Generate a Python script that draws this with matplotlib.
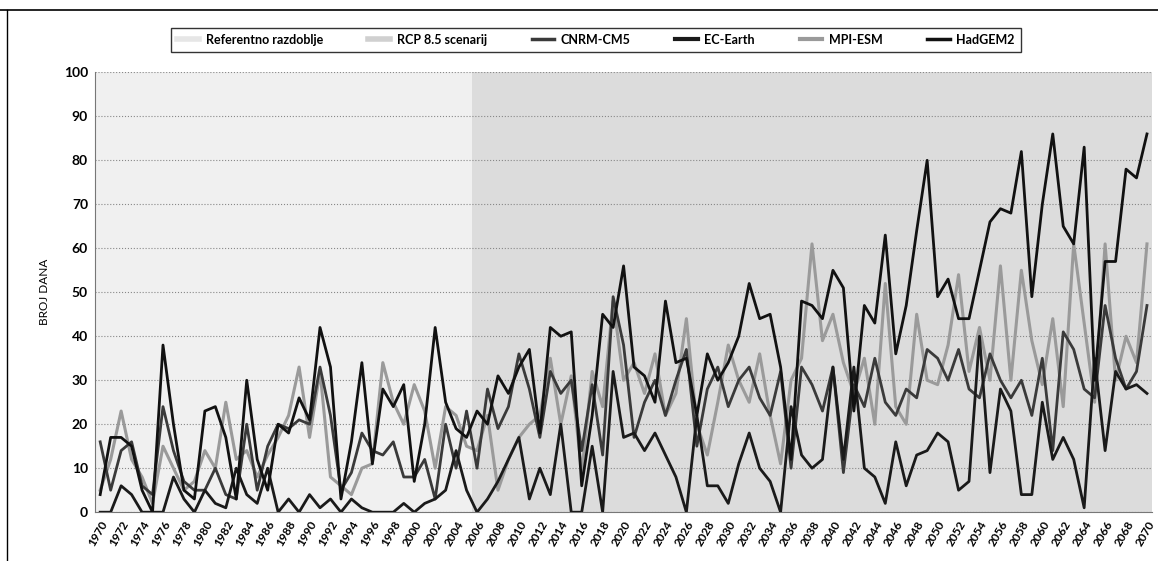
import numpy as np
import matplotlib
matplotlib.use('Agg')
import matplotlib.pyplot as plt
from matplotlib.lines import Line2D

plt.rcParams['font.family'] = ['Lato', 'DejaVu Sans']

years = np.arange(1970, 2071)

cnrm = [16, 5, 14, 16, 6, 4, 24, 14, 7, 5, 5, 10, 4, 3, 20, 5, 15, 20, 19, 21,
        20, 33, 22, 5, 9, 18, 14, 13, 16, 8, 8, 12, 3, 20, 10, 23,
        10, 28, 19, 24, 36, 28, 17, 32, 27, 30, 14, 29, 13, 49, 38, 17, 25, 30, 22, 30,
        37, 15, 28, 33, 24, 30, 33, 26, 22, 32, 10, 33, 29, 23, 33, 9, 29, 24, 35, 25,
        22, 28, 26, 37, 35, 30, 37, 28, 26, 36, 30, 26, 30, 22, 35, 14, 41, 37, 28, 26,
        47, 35, 28, 32, 47]

ec_earth = [0, 0, 6, 4, 0, 0, 0, 8, 3, 0, 5, 2, 1, 10, 4, 2, 10, 0, 3, 0,
            4, 1, 3, 0, 3, 1, 0, 0, 0, 2, 0, 2, 3, 5, 14, 5,
            0, 3, 7, 12, 17, 3, 10, 4, 20, 0, 0, 15, 0, 32, 17, 18, 14, 18, 13, 8,
            0, 22, 6, 6, 2, 11, 18, 10, 7, 0, 24, 13, 10, 12, 33, 12, 33, 10, 8, 2,
            16, 6, 13, 14, 18, 16, 5, 7, 40, 9, 28, 23, 4, 4, 25, 12, 17, 12, 1, 35,
            14, 32, 28, 29, 27]

mpi = [5, 12, 23, 12, 8, 2, 15, 10, 5, 7, 14, 10, 25, 12, 14, 8, 13, 17, 22, 33,
       17, 32, 8, 6, 4, 10, 11, 34, 25, 20, 29, 23, 10, 24, 22, 15,
       14, 22, 5, 12, 17, 20, 22, 35, 20, 31, 9, 32, 24, 48, 30, 34, 27, 36, 22, 27,
       44, 20, 13, 25, 38, 30, 25, 36, 22, 11, 30, 35, 61, 39, 45, 34, 27, 35, 20, 52,
       24, 20, 45, 30, 29, 38, 54, 32, 42, 30, 56, 30, 55, 39, 29, 44, 24, 61, 43, 25,
       61, 30, 40, 34, 61]

hadgem = [4, 17, 17, 15, 5, 0, 38, 20, 5, 3, 23, 24, 17, 3, 30, 12, 5, 20, 18, 26,
          21, 42, 33, 3, 16, 34, 11, 28, 24, 29, 7, 20, 42, 25, 19, 17,
          23, 20, 31, 27, 33, 37, 18, 42, 40, 41, 6, 22, 45, 42, 56, 33, 31, 25, 48, 34,
          35, 22, 36, 30, 34, 40, 52, 44, 45, 33, 12, 48, 47, 44, 55, 51, 23, 47, 43, 63,
          36, 47, 64, 80, 49, 53, 44, 44, 55, 66, 69, 68, 82, 49, 70, 86, 65, 61, 83, 30,
          57, 57, 78, 76, 86]

ref_period = (1970, 2005)
rcp_period = (2006, 2070)

fig = plt.figure(figsize=(11.58, 5.61), dpi=100)
ax = fig.add_axes([0.082, 0.087, 0.913, 0.784])

ax.axvspan(ref_period[0] - 0.5, ref_period[1] + 0.5, color='#f0f0f0', lw=0, zorder=0)
ax.axvspan(rcp_period[0] - 0.5, rcp_period[1] + 0.5, color='#dcdcdc', lw=0, zorder=0)

ax.plot(years, mpi, color='#9a9a9a', lw=2.2, zorder=3)
ax.plot(years, cnrm, color='#3a3a3a', lw=2.0, zorder=4)
ax.plot(years, ec_earth, color='#1a1a1a', lw=2.0, zorder=4)
ax.plot(years, hadgem, color='#111111', lw=2.0, zorder=5)

ax.set_xlim(1969.5, 2070.5)
ax.set_ylim(0, 100)
ax.set_yticks(np.arange(0, 101, 10))
ax.set_xticks(np.arange(1970, 2071, 2))
ax.set_xticklabels([str(y) for y in range(1970, 2071, 2)], rotation=60,
                   ha='right', rotation_mode='anchor', fontsize=8.5, fontweight='bold')
for lab in ax.get_yticklabels():
    lab.set_fontweight('bold')
    lab.set_fontsize(10)
ax.tick_params(axis='both', length=0, pad=5)
ax.yaxis.grid(True, color='#888888', ls=':', lw=0.8)
ax.set_axisbelow(True)
for s in ['top', 'right']:
    ax.spines[s].set_visible(False)
ax.spines['left'].set_color('#777777')
ax.spines['bottom'].set_color('#777777')
ax.set_ylabel('BROJ DANA', fontsize=8.5, labelpad=10)

handles = [
    Line2D([], [], color='#e6e6e6', lw=4),
    Line2D([], [], color='#d0d0d0', lw=4),
    Line2D([], [], color='#3a3a3a', lw=2.5),
    Line2D([], [], color='#1a1a1a', lw=3),
    Line2D([], [], color='#9a9a9a', lw=3),
    Line2D([], [], color='#111111', lw=2.5),
]
labels = ['Referentno razdoblje', 'RCP 8.5 scenarij', 'CNRM-CM5', 'EC-Earth', 'MPI-ESM', 'HadGEM2']
leg = fig.legend(handles, labels, loc='upper left', bbox_to_anchor=(0.142, 0.962), ncol=6,
                 frameon=True, fancybox=False, edgecolor='black',
                 handlelength=1.8, handletextpad=0.5, columnspacing=3.6, borderpad=0.5,
                 prop={'weight': 'bold', 'size': 9})
leg.get_frame().set_linewidth(1.0)

fig.add_artist(Line2D([0, 1], [0.982, 0.982], color='black', lw=1.2, transform=fig.transFigure))
fig.add_artist(Line2D([0.006, 0.006], [0, 0.982], color='black', lw=1.0, transform=fig.transFigure))

fig.savefig('out.png', dpi=100)
